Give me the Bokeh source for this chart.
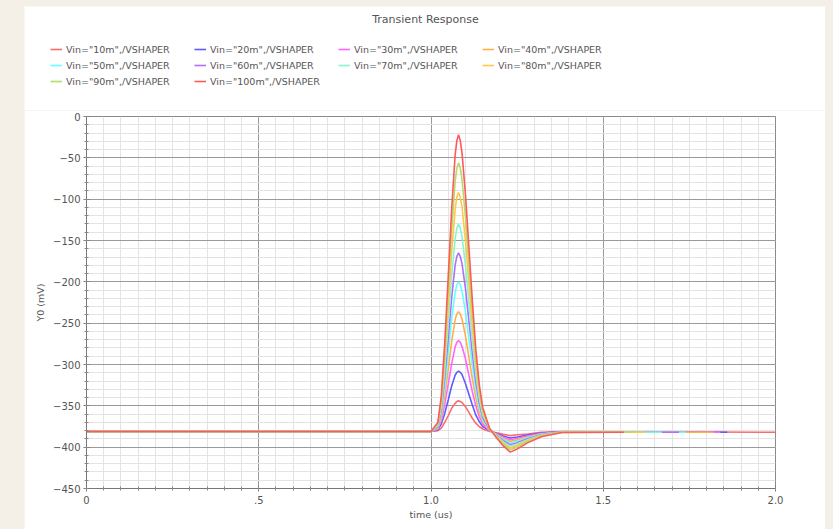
from bokeh.plotting import figure
from bokeh.models import Legend, LegendItem, Label, FixedTicker, Range1d
from bokeh.layouts import column
from bokeh.embed import file_html
from bokeh.resources import INLINE

# ---------------- data ----------------
TIME = [0.0, 1.00, 1.02, 1.03, 1.04, 1.05, 1.06, 1.07, 1.075, 1.08, 1.085, 1.09,
        1.10, 1.11, 1.12, 1.13, 1.14, 1.15, 1.17, 1.19, 1.21, 1.23, 1.25, 1.28,
        1.32, 1.38]

SERIES = ['Vin="10m",/VSHAPER', 'Vin="20m",/VSHAPER', 'Vin="30m",/VSHAPER',
          'Vin="40m",/VSHAPER', 'Vin="50m",/VSHAPER', 'Vin="60m",/VSHAPER',
          'Vin="70m",/VSHAPER', 'Vin="80m",/VSHAPER', 'Vin="90m",/VSHAPER',
          'Vin="100m",/VSHAPER']

V10 = [-381, -381, -380, -377, -370, -362, -353, -347, -344.7, -344, -344.7, -346,
       -351, -358, -365, -371, -375, -378, -381, -382.5, -384.5, -386, -385, -384,
       -382, -381]
V20 = [-381, -381, -379, -372, -359, -343, -326, -313, -309.5, -308, -309.5, -312,
       -323, -336, -349, -361, -369, -375, -380, -383.4, -386.6, -389, -387.8, -385.4,
       -383, -381.4]
V30 = [-381, -381, -378, -368, -348, -324, -299, -279, -273.2, -271, -273.2, -278,
       -293, -313, -333, -350, -363, -372, -380, -384, -388, -391, -389.5, -386.5,
       -383.5, -381.5]
V40 = [-381, -381, -377, -364, -338, -306, -272, -246, -238.9, -236, -238.9, -245,
       -265, -291, -317, -340, -358, -369, -380, -384.6, -389.4, -393, -391.2, -387.6,
       -384, -381.6]
V50 = [-381, -381, -376, -359, -327, -287, -245, -213, -203.6, -200, -203.6, -211,
       -236, -269, -301, -330, -352, -367, -379, -385.2, -390.8, -395, -392.9, -388.7,
       -384.5, -381.7]
V60 = [-381, -381, -375, -355, -316, -269, -219, -180, -169.3, -165, -169.3, -178,
       -208, -247, -286, -321, -346, -364, -379, -385.8, -392.2, -397, -394.6, -389.8,
       -385, -381.8]
V70 = [-381, -381, -374, -351, -306, -250, -193, -148, -135, -130, -135, -145,
       -180, -225, -271, -311, -341, -361, -378, -386.4, -393.6, -399, -396.3, -390.9,
       -385.5, -381.9]
V80 = [-381, -381, -372, -346, -294, -231, -164, -112, -97.8, -92, -97.8, -109,
       -150, -202, -254, -300, -335, -358, -378, -387, -395, -401, -398, -392,
       -386, -382]
V90 = [-381, -381, -371, -342, -284, -212, -137, -79, -62.5, -56, -62.5, -76,
       -121, -180, -238, -290, -329, -355, -378, -387.6, -396.4, -403, -399.7, -393.1,
       -386.5, -382.1]
V100 = [-381, -381, -370, -338, -273, -194, -112, -47, -29.2, -22, -29.2, -44,
        -94, -158, -223, -281, -324, -352, -377, -388.5, -398.5, -406, -402.3, -394.8,
        -387.3, -382.3]

VALUES = [V10, V20, V30, V40, V50, V60, V70, V80, V90, V100]
END_TIME = [2.0, 1.86, 1.84, 1.82, 1.74, 1.72, 1.67, 1.62, 1.58, 1.56]
END_VALUE = -382

COLORS = ["#ff6a6a", "#5c5cff", "#ff66ff", "#ffb04a", "#66ffff",
          "#b46cff", "#86f5d6", "#ffc84a", "#b4dc6a", "#ff5a5a"]

XTICKS = [0.0, 0.5, 1.0, 1.5, 2.0]
XTICK_LABELS = ["0", ".5", "1.0", "1.5", "2.0"]
YTICKS = [0, -50, -100, -150, -200, -250, -300, -350, -400, -450]

TITLE = "Transient Response"
FONT = "DejaVu Sans"
TEXT_COLOR = "#555555"
NAN = float("nan")

# ---------------- header (title + legend) ----------------
HW, HH = 801, 104
head = figure(width=HW, height=HH, output_backend="svg", toolbar_location=None,
              x_range=Range1d(0, HW), y_range=Range1d(HH, 0),
              x_axis_type=None, y_axis_type=None, title=None,
              min_border_left=0, min_border_right=0, min_border_top=0,
              min_border_bottom=0)
head.frame_align = False
head.margin = (6, 8, 0, 24)
head.outline_line_color = None
head.border_fill_color = "white"
head.background_fill_color = "white"

head.add_layout(Label(x=401, y=13, text=TITLE, text_align="center",
                      text_baseline="middle", text_font=FONT,
                      text_font_size="11px", text_color=TEXT_COLOR))

# legend swatches (no data points of their own; they only carry the colours)
swatches = [head.line(x=[NAN], y=[NAN], line_color=c, line_width=1.6) for c in COLORS]
items = [LegendItem(label=s, renderers=[r]) for s, r in zip(SERIES, swatches)]
legend = Legend(items=items, orientation="horizontal", ncols=4,
                location=(26, 22), padding=0, margin=0, spacing=2,
                glyph_width=12, glyph_height=14, label_height=14,
                label_width=126, label_standoff=4,
                label_text_font=FONT, label_text_font_size="9.5px",
                label_text_color=TEXT_COLOR,
                border_line_color=None, background_fill_alpha=0)
head.add_layout(legend, "center")

# ---------------- main plot ----------------
p = figure(width=801, height=419, output_backend="svg", toolbar_location=None,
           x_range=Range1d(0, 2.0), y_range=Range1d(-450, 0), title=None,
           min_border_left=62, min_border_right=50, min_border_top=6,
           min_border_bottom=41)
p.frame_align = False
p.margin = (0, 8, 0, 24)
p.border_fill_color = "white"
p.background_fill_color = "white"
p.outline_line_color = "#8a8a8a"

for vals, t_end, col in zip(VALUES, END_TIME, COLORS):
    p.line(TIME + [t_end], vals + [END_VALUE], line_color=col, line_width=1.6)

p.xaxis.ticker = FixedTicker(ticks=XTICKS, minor_ticks=[i * 0.05 for i in range(41)])
p.xaxis.major_label_overrides = {t: l for t, l in zip(XTICKS, XTICK_LABELS)}
p.yaxis.ticker = FixedTicker(ticks=YTICKS, minor_ticks=[-10 * i for i in range(46)])
p.xaxis.axis_label = "time (us)"
p.yaxis.axis_label = "Y0 (mV)"

for ax in (p.xaxis, p.yaxis):
    ax.axis_line_color = "#777777"
    ax.major_tick_line_color = "#777777"
    ax.minor_tick_line_color = "#888888"
    ax.major_tick_in = 3
    ax.major_tick_out = 3
    ax.minor_tick_in = 2
    ax.minor_tick_out = 2
    ax.major_label_text_font = FONT
    ax.major_label_text_font_size = "10px"
    ax.major_label_text_color = TEXT_COLOR
    ax.axis_label_text_font = FONT
    ax.axis_label_text_font_size = "9.5px"
    ax.axis_label_text_font_style = "normal"
    ax.axis_label_text_color = TEXT_COLOR
p.xaxis.major_label_standoff = 4
p.xaxis.axis_label_standoff = 2
p.yaxis.major_label_standoff = 3
p.yaxis.axis_label_standoff = 4

for g in (p.xgrid, p.ygrid):
    g.grid_line_color = "#9a9a9a"
    g.grid_line_width = 1
    g.minor_grid_line_color = "#e3e3e3"

layout = column(head, p, spacing=0, styles={"background-color": "#f4f0e8"},
                width=833, height=529)

html = file_html(layout, INLINE)
html = html.replace("<body>", '<body style="margin:0;background:#f4f0e8">')
open("out.html", "w").write(html)
